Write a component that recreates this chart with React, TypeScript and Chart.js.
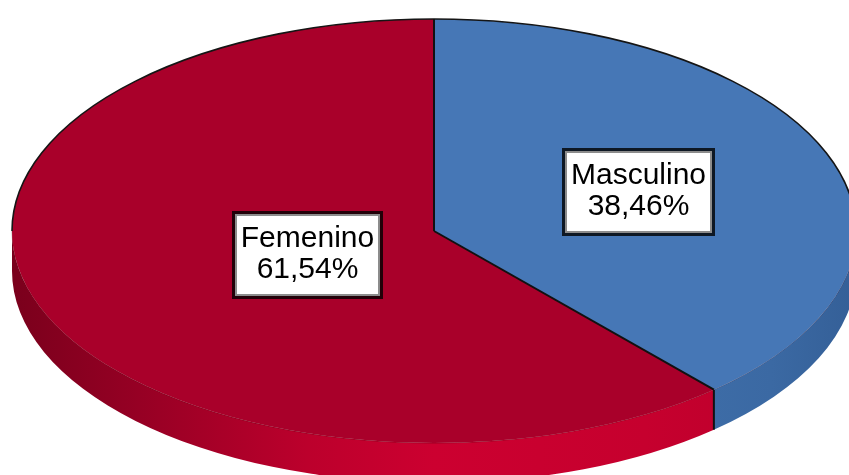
import React, { useEffect, useRef } from 'react';
import { Chart, registerables } from 'chart.js';

Chart.register(...registerables);

// ---- data ----
const categories: string[] = ['Masculino', 'Femenino'];
const percentages: number[] = [38.46, 61.54];
const topColors: string[] = ['#4677b6', '#a9002a'];

// ---- layout / style (not data) ----
const W = 849;
const H = 475;
const ELLIPSE = { cx: 434, cy: 231, rx: 422, ry: 212, depth: 40 };
const LABEL_RADIUS = [0.518, 0.32];
const FONT_SIZE = 30;
const LINE_H = 31;
const PAD_X = 6;
const PAD_Y = 10;

const sideGradients: [number, string][][] = [
  [
    [0, '#3f6faa'],
    [0.75, '#3f6faa'],
    [0.9, '#3b69a3'],
    [1, '#345f97'],
  ],
  [
    [0, '#7a001c'],
    [0.15, '#960024'],
    [0.35, '#bc002c'],
    [0.5, '#cc0030'],
    [0.75, '#c6002e'],
    [1, '#b8002b'],
  ],
];

const fmt = (v: number) => v.toFixed(2).replace('.', ',') + '%';

const pie3d = {
  id: 'pie3d',
  beforeDatasetsDraw(chart: any) {
    const ctx: CanvasRenderingContext2D = chart.ctx;
    const meta = chart.getDatasetMeta(0);
    const arcs = meta.data;
    const { cx, cy, rx, ry, depth } = ELLIPSE;

    // side walls
    arcs.forEach((arc: any, i: number) => {
      const { startAngle, endAngle } = arc.getProps(['startAngle', 'endAngle'], true);
      for (let k = -1; k <= 1; k++) {
        const lo = Math.max(startAngle, k * 2 * Math.PI);
        const hi = Math.min(endAngle, k * 2 * Math.PI + Math.PI);
        if (hi > lo) {
          ctx.save();
          ctx.beginPath();
          ctx.ellipse(cx, cy, rx, ry, 0, lo, hi, false);
          ctx.ellipse(cx, cy + depth, rx, ry, 0, hi, lo, true);
          ctx.closePath();
          const g = ctx.createLinearGradient(cx - rx, 0, cx + rx, 0);
          sideGradients[i % sideGradients.length].forEach(([s, c]) => g.addColorStop(s, c));
          ctx.fillStyle = g;
          ctx.fill();
          ctx.restore();
        }
      }
    });

    // subtle front top edge
    ctx.save();
    ctx.beginPath();
    ctx.ellipse(cx, cy, rx, ry, 0, 0, Math.PI, false);
    ctx.strokeStyle = 'rgba(60,0,10,0.35)';
    ctx.lineWidth = 1;
    ctx.stroke();
    ctx.restore();

    // vertical edges at slice boundaries in front
    arcs.forEach((arc: any) => {
      const { startAngle } = arc.getProps(['startAngle'], true);
      const s = Math.sin(startAngle);
      if (s > 0.02) {
        const px = cx + rx * Math.cos(startAngle);
        const py = cy + ry * s;
        ctx.save();
        ctx.beginPath();
        ctx.moveTo(px, py);
        ctx.lineTo(px, py + depth);
        ctx.strokeStyle = '#111';
        ctx.lineWidth = 2;
        ctx.stroke();
        ctx.restore();
      }
    });

    // squash the circular pie into the ellipse
    const a0 = arcs[0].getProps(['x', 'y', 'outerRadius'], true);
    ctx.save();
    ctx.translate(cx, cy);
    ctx.scale(rx / a0.outerRadius, ry / a0.outerRadius);
    ctx.translate(-a0.x, -a0.y);
  },
  afterDatasetsDraw(chart: any) {
    const ctx: CanvasRenderingContext2D = chart.ctx;
    ctx.restore();
    const meta = chart.getDatasetMeta(0);
    const arcs = meta.data;
    const { cx, cy, rx, ry } = ELLIPSE;

    // back edge outline
    ctx.save();
    ctx.beginPath();
    ctx.ellipse(cx, cy, rx, ry, 0, Math.PI, 2 * Math.PI, false);
    ctx.strokeStyle = '#151515';
    ctx.lineWidth = 1.6;
    ctx.stroke();

    // radial lines
    arcs.forEach((arc: any) => {
      const { startAngle } = arc.getProps(['startAngle'], true);
      ctx.beginPath();
      ctx.moveTo(cx, cy);
      ctx.lineTo(cx + rx * Math.cos(startAngle), cy + ry * Math.sin(startAngle));
      ctx.strokeStyle = '#111';
      ctx.lineWidth = 2;
      ctx.stroke();
    });
    ctx.restore();
  },
  afterDraw(chart: any) {
    const ctx: CanvasRenderingContext2D = chart.ctx;
    const meta = chart.getDatasetMeta(0);
    const { cx, cy, rx, ry } = ELLIPSE;
    ctx.save();
    ctx.font = `${FONT_SIZE}px "Liberation Sans", Arial, sans-serif`;
    meta.data.forEach((arc: any, i: number) => {
      const { startAngle, endAngle } = arc.getProps(['startAngle', 'endAngle'], true);
      const mid = (startAngle + endAngle) / 2;
      const f = LABEL_RADIUS[i] ?? 0.5;
      const bx = cx + rx * f * Math.cos(mid);
      const by = cy + ry * f * Math.sin(mid);
      const lines = [categories[i], fmt(percentages[i])];
      const tw = Math.max(...lines.map((l) => ctx.measureText(l).width));
      const w = Math.round(tw + 2 * PAD_X);
      const h = LINE_H * lines.length + 2 * PAD_Y;
      const x = Math.round(bx - w / 2);
      const y = Math.round(by - h / 2);
      ctx.fillStyle = '#ffffff';
      ctx.fillRect(x, y, w, h);
      ctx.strokeStyle = 'rgba(0,0,0,0.8)';
      ctx.lineWidth = 3;
      ctx.strokeRect(x - 1.5, y - 1.5, w + 3, h + 3);
      ctx.strokeStyle = '#8c8c8c';
      ctx.lineWidth = 2;
      ctx.strokeRect(x + 1, y + 1, w - 2, h - 2);
      ctx.fillStyle = '#000';
      ctx.textAlign = 'center';
      ctx.textBaseline = 'alphabetic';
      lines.forEach((l, j) => {
        ctx.fillText(l, x + w / 2, y + PAD_Y + LINE_H * (j + 1) - 8);
      });
    });
    ctx.restore();
  },
};

export default function App() {
  const ref = useRef<HTMLCanvasElement>(null);
  useEffect(() => {
    const chart = new Chart(ref.current as HTMLCanvasElement, {
      type: 'pie',
      data: {
        labels: categories,
        datasets: [
          {
            data: percentages,
            backgroundColor: topColors,
            borderWidth: 0,
          },
        ],
      },
      options: {
        animation: false,
        responsive: false,
        maintainAspectRatio: false,
        events: [],
        layout: { padding: 0 },
        plugins: {
          legend: { display: false },
          tooltip: { enabled: false },
        },
      },
      plugins: [pie3d as any],
    });
    return () => chart.destroy();
  }, []);
  return (
    <div style={{ position: 'fixed', left: 0, top: 0, width: W, height: H, background: '#fff' }}>
      <canvas ref={ref} width={W} height={H} style={{ width: W, height: H, display: 'block' }} />
    </div>
  );
}
